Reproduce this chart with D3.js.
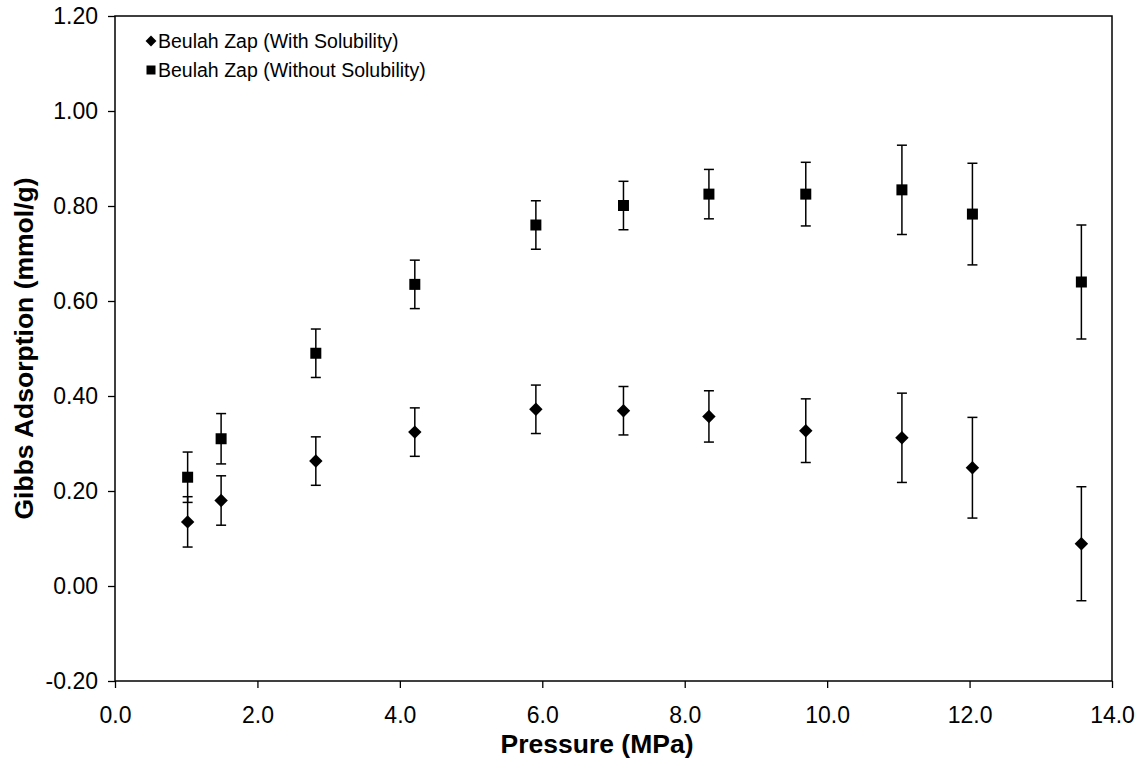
<!DOCTYPE html>
<html>
<head>
<meta charset="utf-8">
<script src="https://cdn.jsdelivr.net/npm/d3@7"></script>
<style>
  body { margin: 0; background: #fff; }
  svg { display: block; font-family: "Liberation Sans", Arial, sans-serif; }
</style>
</head>
<body>
<svg id="canvas" width="1147" height="763"></svg>
<script>
// pressure (MPa) of each measurement
const pressure = [1.02, 1.49, 2.82, 4.21, 5.91, 7.14, 8.34, 9.70, 11.05, 12.04, 13.57];

// Gibbs adsorption, mmol/g
const withSolubility = [0.135, 0.180, 0.263, 0.324, 0.372, 0.369, 0.357, 0.327, 0.312, 0.249, 0.089];
const withSolubilityErr = [0.053, 0.052, 0.051, 0.051, 0.051, 0.051, 0.054, 0.067, 0.094, 0.106, 0.120];
const withoutSolubility = [0.229, 0.310, 0.490, 0.635, 0.760, 0.801, 0.825, 0.825, 0.834, 0.783, 0.640];
const withoutSolubilityErr = [0.053, 0.053, 0.051, 0.051, 0.051, 0.051, 0.052, 0.067, 0.094, 0.107, 0.120];

const xTicks = [0, 2, 4, 6, 8, 10, 12, 14];
const yTicks = [-0.2, 0, 0.2, 0.4, 0.6, 0.8, 1.0, 1.2];

const seriesNames = ["Beulah Zap (With Solubility)", "Beulah Zap (Without Solubility)"];

const margin = {top: 16, right: 35, bottom: 82, left: 115};
const width = 1147 - margin.left - margin.right;
const height = 763 - margin.top - margin.bottom;

const svg = d3.select("#canvas");
const g = svg.append("g").attr("transform", `translate(${margin.left},${margin.top})`);

const x = d3.scaleLinear().domain([0, 14]).range([0, width]);
const y = d3.scaleLinear().domain([-0.2, 1.2]).range([height, 0]);

// plain hyphen for negatives, like the original
const fmt = f => d => d3.format(f)(d).replace("\u2212", "-");

// axes
const xAxis = d3.axisBottom(x).tickValues(xTicks).tickFormat(fmt(".1f")).tickSize(7).tickPadding(19).tickSizeOuter(0);
const yAxis = d3.axisLeft(y).tickValues(yTicks).tickFormat(fmt(".2f")).tickSize(7).tickPadding(10).tickSizeOuter(0);

const gx = g.append("g").attr("transform", `translate(0,${height})`).call(xAxis);
const gy = g.append("g").call(yAxis);

[gx, gy].forEach(a => {
  a.selectAll("text").attr("font-size", 23).attr("fill", "#000").attr("font-family", "Liberation Sans, Arial, sans-serif");
  a.selectAll("line").attr("stroke", "#000").attr("stroke-width", 1.3);
  a.select(".domain").remove();
});

// plot frame
g.append("rect")
  .attr("x", 0).attr("y", 0)
  .attr("width", width).attr("height", height)
  .attr("fill", "none").attr("stroke", "#000").attr("stroke-width", 1.5);

// axis titles
svg.append("text")
  .attr("x", 597).attr("y", 753)
  .attr("text-anchor", "middle")
  .attr("font-size", 26.5).attr("font-weight", "bold")
  .text("Pressure (MPa)");

svg.append("text")
  .attr("transform", `translate(33,${margin.top + height / 2}) rotate(-90)`)
  .attr("text-anchor", "middle")
  .attr("font-size", 26.5).attr("font-weight", "bold")
  .text("Gibbs Adsorption (mmol/g)");

const series = [
  {vals: withSolubility, errs: withSolubilityErr, sym: d3.symbol().type(d3.symbolDiamond2).size(115)},
  {vals: withoutSolubility, errs: withoutSolubilityErr, sym: d3.symbol().type(d3.symbolSquare).size(121)}
];

series.forEach(s => {
  const pts = pressure.map((p, i) => ({p: p, v: s.vals[i], e: s.errs[i]}));
  const grp = g.append("g");

  const eb = grp.selectAll("g.err").data(pts).enter().append("g")
    .attr("stroke", "#000").attr("stroke-width", 1.5);
  eb.append("line")
    .attr("x1", d => x(d.p)).attr("x2", d => x(d.p))
    .attr("y1", d => y(d.v + d.e)).attr("y2", d => y(d.v - d.e));
  eb.append("line")
    .attr("x1", d => x(d.p) - 5).attr("x2", d => x(d.p) + 5)
    .attr("y1", d => y(d.v + d.e)).attr("y2", d => y(d.v + d.e));
  eb.append("line")
    .attr("x1", d => x(d.p) - 5).attr("x2", d => x(d.p) + 5)
    .attr("y1", d => y(d.v - d.e)).attr("y2", d => y(d.v - d.e));

  grp.selectAll("path.pt").data(pts).enter().append("path")
    .attr("d", s.sym)
    .attr("fill", "#000")
    .attr("transform", d => `translate(${x(d.p)},${y(d.v)})`);
});

// legend
const legend = svg.append("g");
const legendY = [41, 70];
const legendSyms = [d3.symbol().type(d3.symbolDiamond2).size(75), d3.symbol().type(d3.symbolSquare).size(81)];
seriesNames.forEach((name, i) => {
  legend.append("path")
    .attr("d", legendSyms[i])
    .attr("fill", "#000")
    .attr("transform", `translate(151,${legendY[i]})`);
  legend.append("text")
    .attr("x", 158).attr("y", legendY[i])
    .attr("dy", "0.35em")
    .attr("font-size", 19.5)
    .text(name);
});
</script>
</body>
</html>
